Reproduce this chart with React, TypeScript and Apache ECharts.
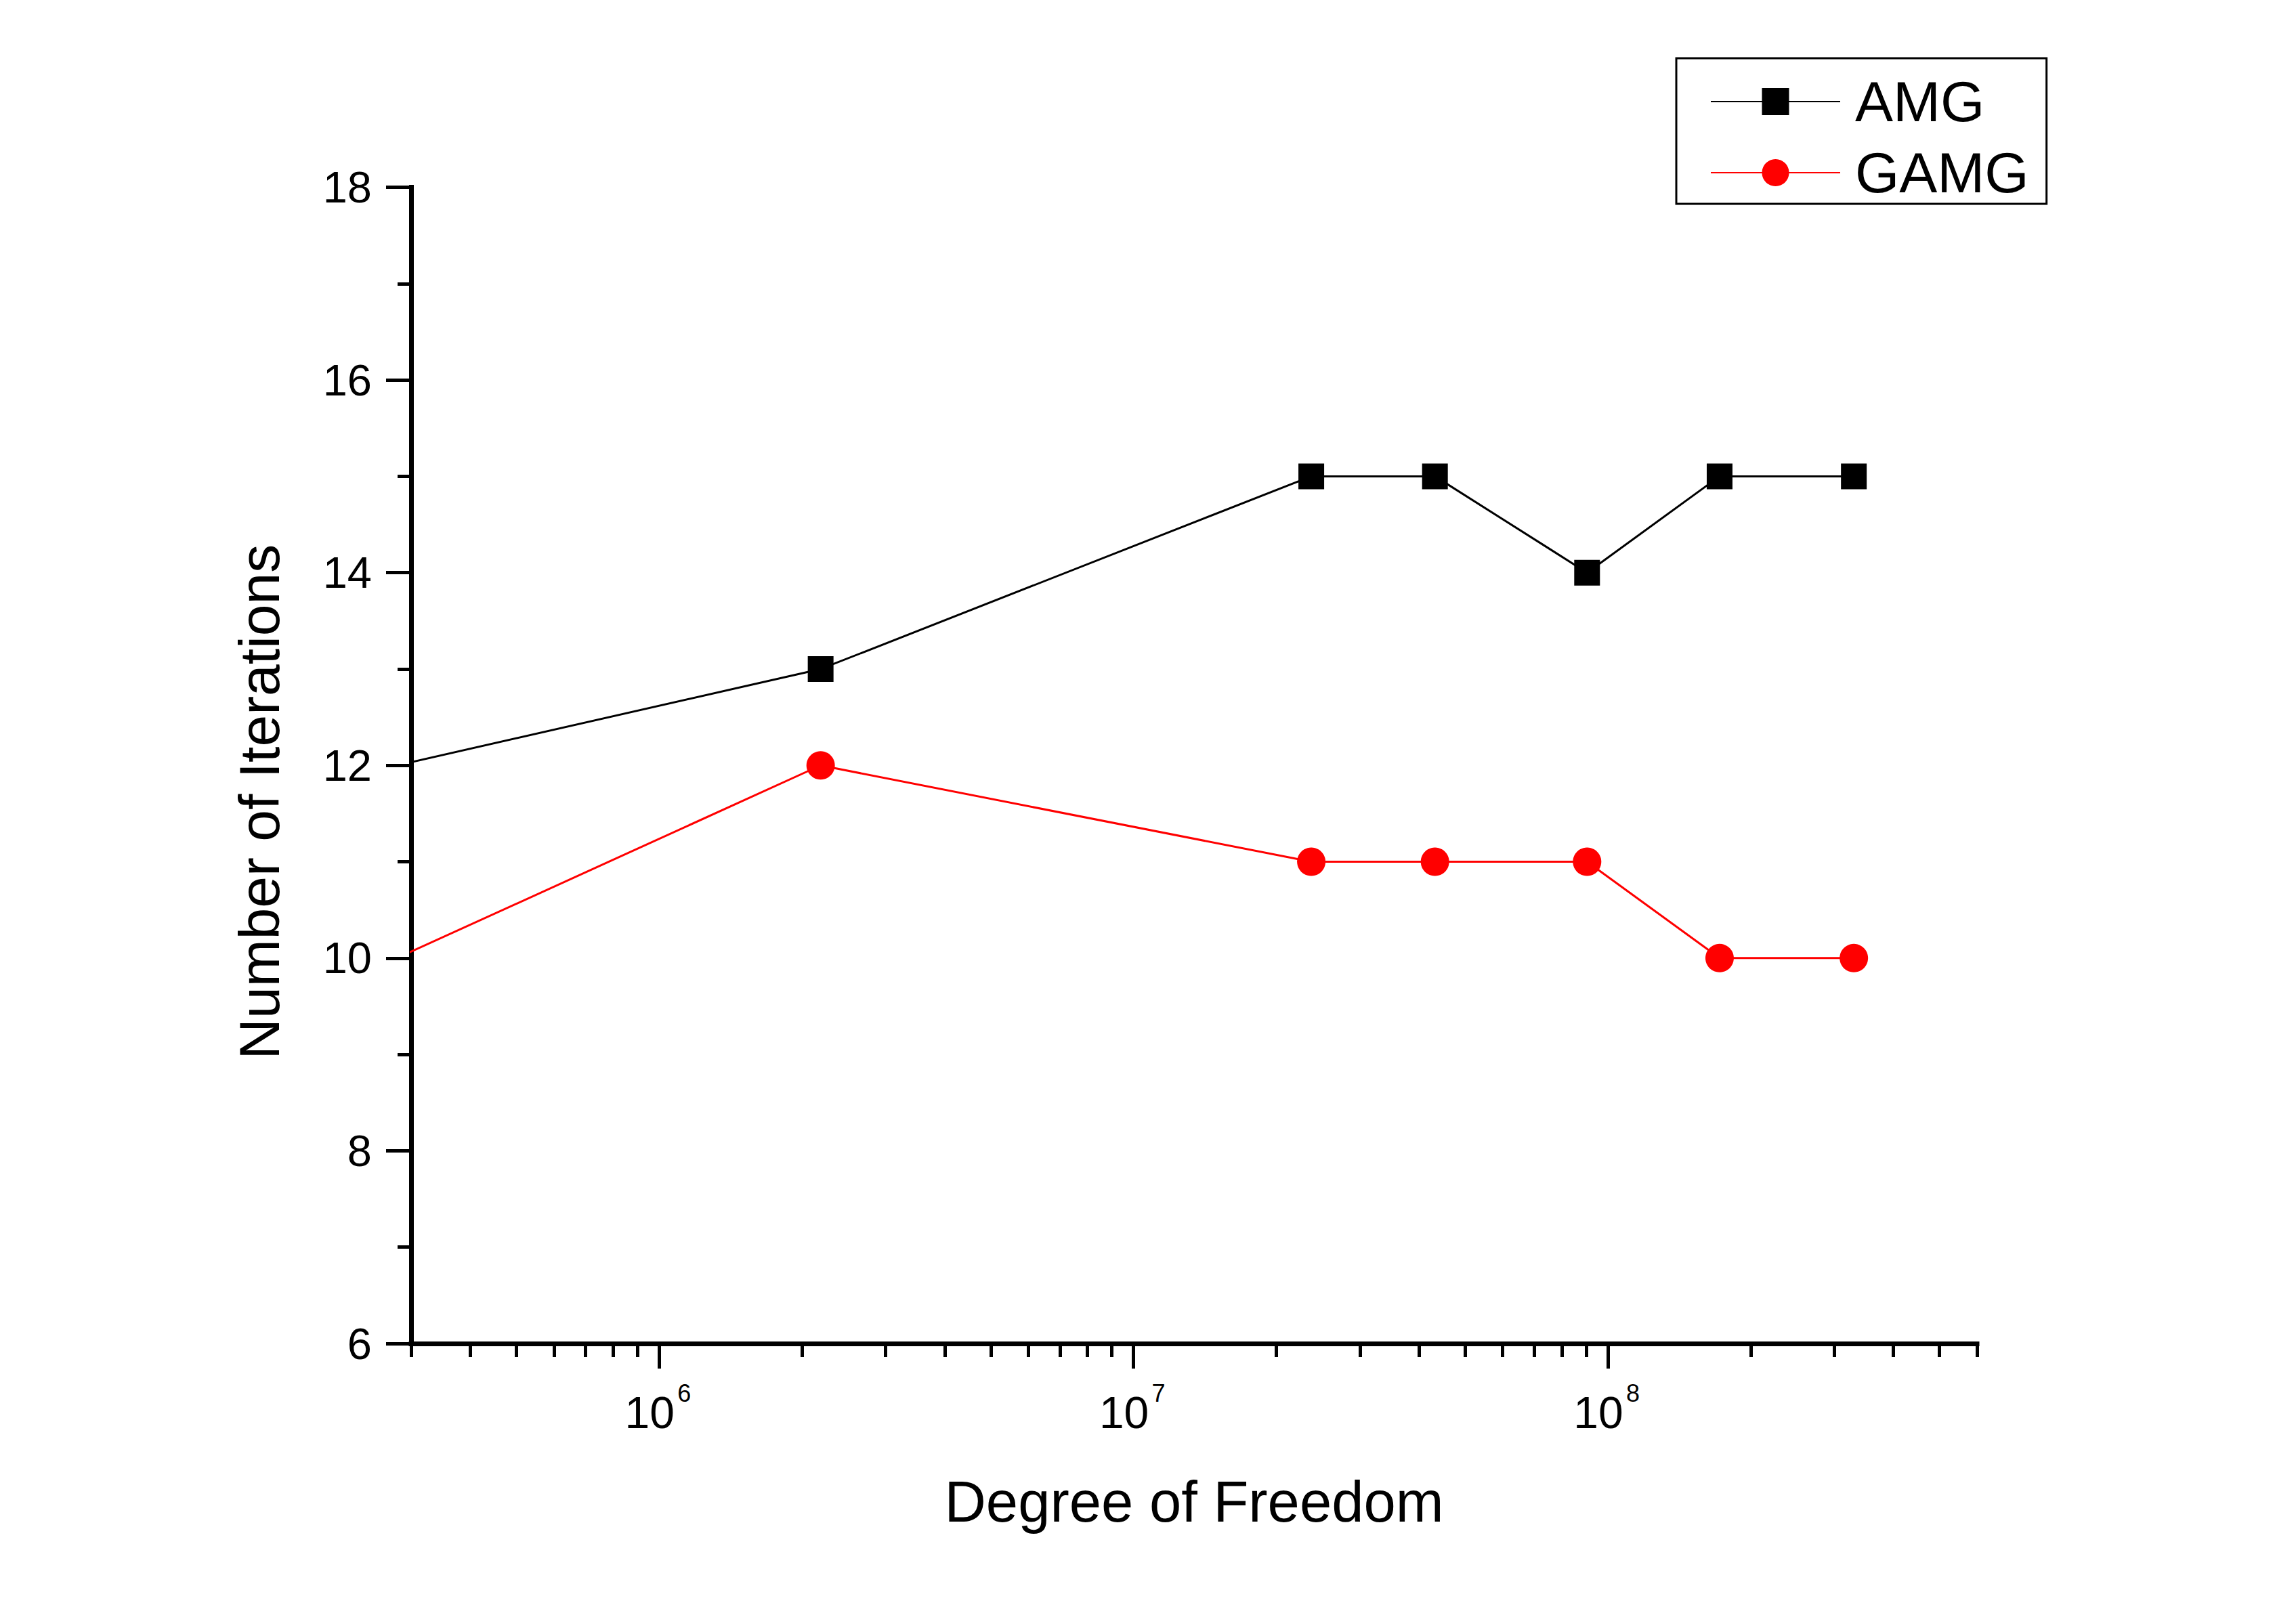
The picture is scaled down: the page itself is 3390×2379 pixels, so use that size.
import React, { useEffect, useRef } from "react";
import * as echarts from "echarts";

// ---- data ----
const dof = [2.8e5, 2.19e6, 2.37e7, 4.32e7, 9.04e7, 1.72e8, 3.3e8];
const amgIterations = [12, 13, 15, 15, 14, 15, 15];
const gamgIterations = [10, 12, 11, 11, 11, 10, 10];
const seriesNames = ["AMG", "GAMG"];

const xMinDof = 3e5;
const xMaxDof = 6e8;
const xMajorTicks = [1e6, 1e7, 1e8];
const xMinorTicks = [
  3e5, 4e5, 5e5, 6e5, 7e5, 8e5, 9e5,
  2e6, 3e6, 4e6, 5e6, 6e6, 7e6, 8e6, 9e6,
  2e7, 3e7, 4e7, 5e7, 6e7, 7e7, 8e7, 9e7,
  2e8, 3e8, 4e8, 5e8, 6e8,
];
const yMin = 6;
const yMax = 18;
const yInterval = 2;

const FONT = "'Liberation Sans', Arial, sans-serif";

export default function App() {
  const ref = useRef<HTMLDivElement>(null);

  useEffect(() => {
    if (!ref.current) return;
    const chart = echarts.init(ref.current, null, { renderer: "svg" });
    const lg = (v: number) => Math.log10(v);
    const xmin = lg(xMinDof);
    const xmax = lg(xMaxDof);
    const majorVals = xMajorTicks.map(lg);

    const hiddenAxisBase = {
      type: "value",
      min: xmin,
      max: xmax,
      position: "bottom",
      axisLine: { show: false },
      splitLine: { show: false },
    };

    const option: any = {
      animation: false,
      backgroundColor: "#ffffff",
      textStyle: { fontFamily: FONT, color: "#000" },
      grid: { left: 607, right: 471, top: 276.5, bottom: 395, containLabel: false },
      legend: {
        orient: "vertical",
        left: 2475,
        top: 86,
        padding: [22, 26, 4, 50],
        itemGap: 21,
        itemWidth: 191,
        itemHeight: 50,
        borderColor: "#000",
        borderWidth: 3,
        borderRadius: 0,
        backgroundColor: "#fff",
        selectedMode: false,
        textStyle: { fontSize: 84, fontFamily: FONT, color: "#000", padding: [0, 0, 0, 17] },
        data: seriesNames,
      },
      xAxis: [
        {
          type: "value",
          min: xmin,
          max: xmax,
          position: "bottom",
          name: "Degree of Freedom",
          nameLocation: "middle",
          nameGap: 191,
          nameTextStyle: { fontSize: 85, fontFamily: FONT, color: "#000" },
          axisLine: { show: true, onZero: false, lineStyle: { color: "#000", width: 7, cap: "square" } },
          axisTick: {
            show: true,
            inside: false,
            length: 37,
            lineStyle: { color: "#000", width: 5 },
            customValues: majorVals,
          },
          axisLabel: {
            show: true,
            margin: 69,
            customValues: majorVals,
            formatter: () => "10",
            fontSize: 66,
            fontFamily: FONT,
            color: "#000",
            padding: [0, 28, 0, 0],
          },
          splitLine: { show: false },
        },
        {
          ...hiddenAxisBase,
          axisTick: {
            show: true,
            inside: false,
            length: 20,
            lineStyle: { color: "#000", width: 5 },
            customValues: xMinorTicks.map(lg),
          },
          axisLabel: { show: false },
        },
        {
          ...hiddenAxisBase,
          axisTick: { show: false },
          axisLabel: {
            show: true,
            margin: 55,
            customValues: majorVals,
            formatter: (v: number) => String(Math.round(v)),
            fontSize: 36,
            fontFamily: FONT,
            color: "#000",
            padding: [0, 0, 0, 74],
          },
        },
      ],
      yAxis: {
        type: "value",
        min: yMin,
        max: yMax,
        interval: yInterval,
        name: "Number of Iterations",
        nameLocation: "middle",
        nameGap: 182,
        nameTextStyle: { fontSize: 84, fontFamily: FONT, color: "#000", padding: [0, 108, 0, 0] },
        axisLine: { show: true, onZero: false, lineStyle: { color: "#000", width: 7, cap: "square" } },
        axisTick: { show: true, inside: false, length: 37, lineStyle: { color: "#000", width: 5 } },
        minorTick: { show: true, splitNumber: 2, length: 20, lineStyle: { color: "#000", width: 5 } },
        axisLabel: { margin: 58, fontSize: 65, fontFamily: FONT, color: "#000" },
        splitLine: { show: false },
        minorSplitLine: { show: false },
      },
      series: [
        {
          name: seriesNames[0],
          type: "line",
          xAxisIndex: 0,
          data: dof.map((d, i) => [lg(d), amgIterations[i]]),
          symbol: "rect",
          symbolSize: 38,
          clip: true,
          lineStyle: { color: "#000", width: 3 },
          itemStyle: { color: "#000" },
          emphasis: { disabled: true },
        },
        {
          name: seriesNames[1],
          type: "line",
          xAxisIndex: 0,
          data: dof.map((d, i) => [lg(d), gamgIterations[i]]),
          symbol: "circle",
          symbolSize: 42,
          clip: true,
          lineStyle: { color: "#ff0000", width: 3 },
          itemStyle: { color: "#ff0000" },
          emphasis: { disabled: true },
        },
      ],
    };
    chart.setOption(option);
    return () => chart.dispose();
  }, []);

  return (
    <div
      ref={ref}
      style={{ position: "fixed", left: 0, top: 0, width: 3390, height: 2379, background: "#fff" }}
    />
  );
}
